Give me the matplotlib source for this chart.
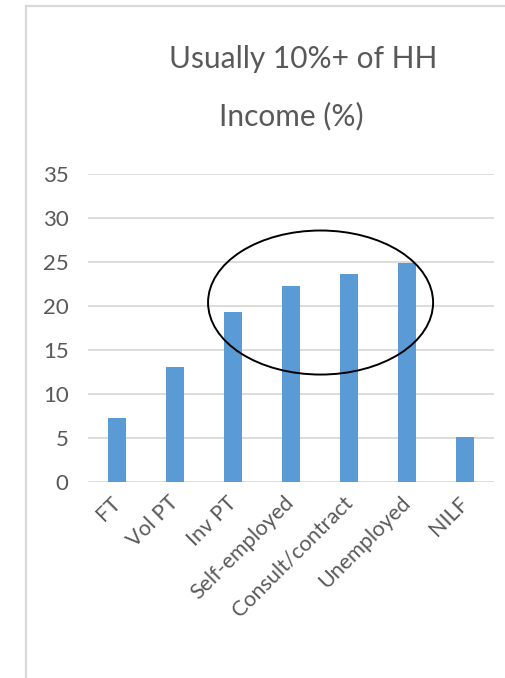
import matplotlib.pyplot as plt
from matplotlib.patches import Ellipse
from matplotlib.lines import Line2D

categories = ["FT", "Vol PT", "Inv PT", "Self-employed", "Consult/contract",
              "Unemployed", "NILF"]
values = [7.3, 13.1, 19.3, 22.3, 23.7, 24.9, 5.1]
y_ticks = [0, 5, 10, 15, 20, 25, 30, 35]

title_lines = ["Usually 10%+ of HH", "Income (%)"]

bar_color = "#5B9BD5"
grid_color = "#D9D9D9"
text_color = "#595959"

plt.rcParams['font.family'] = ['Lato', 'DejaVu Sans']

W, H = 506, 678
fig = plt.figure(figsize=(W / 100, H / 100), dpi=100)

# axes placed in pixel terms of the reference
ax_left, ax_right, ax_top, ax_bottom = 88, 494, 174.3, 481.7
ax = fig.add_axes([ax_left / W, 1 - ax_bottom / H,
                   (ax_right - ax_left) / W, (ax_bottom - ax_top) / H])

x = range(len(categories))
ax.bar(x, values, width=0.31, color=bar_color, zorder=3)

ax.set_xlim(-0.5, len(categories) - 0.5)
ax.set_ylim(0, 35)
ax.set_yticks(y_ticks)
ax.set_yticklabels([str(t) for t in y_ticks])
ax.set_xticks(list(x))
ax.set_xticklabels(categories, rotation=45, ha='right', va='center',
                   rotation_mode='anchor')

for t in y_ticks:
    ax.axhline(t, color=grid_color, lw=1.3, zorder=1)

for s in ax.spines.values():
    s.set_visible(False)
ax.tick_params(axis='both', length=0, colors=text_color)
ax.tick_params(axis='y', pad=14, labelsize=16)
ax.tick_params(axis='x', pad=13, labelsize=15.5)

# hand-drawn style ellipse around the middle bars
ell = Ellipse((3.51, 20.4), width=3.88, height=16.4, fill=False,
              edgecolor='black', lw=1.4, zorder=4, clip_on=False)
ax.add_patch(ell)

# title, two lines as Excel wrapped it
fig.text(303.5 / W, 1 - 68 / H, title_lines[0], ha='center', va='baseline',
         fontsize=21.5, color=text_color)
fig.text(291 / W, 1 - 125 / H, title_lines[1], ha='center', va='baseline',
         fontsize=21.5, color=text_color)

# chart frame (left and top edges visible)
fig.add_artist(Line2D([26 / W, 26 / W], [0, 1 - 6 / H], color=grid_color,
                      lw=1.6, transform=fig.transFigure))
fig.add_artist(Line2D([26 / W, 1], [1 - 6 / H, 1 - 6 / H], color=grid_color,
                      lw=1.6, transform=fig.transFigure))

fig.savefig("out.png", dpi=100)
